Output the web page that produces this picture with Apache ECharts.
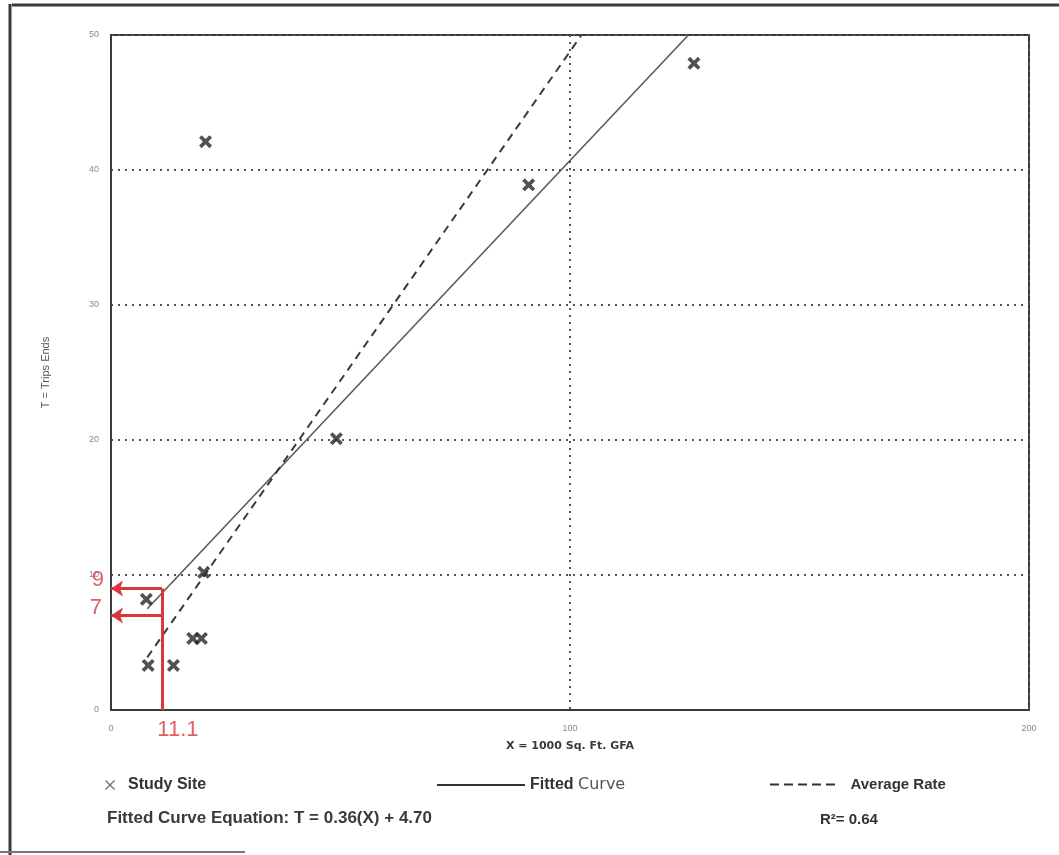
<!DOCTYPE html>
<html>
<head>
<meta charset="utf-8">
<title>Trip Ends vs GFA</title>
<script src="https://cdn.jsdelivr.net/npm/echarts@6/dist/echarts.min.js"></script>
<style>
  html, body { margin: 0; padding: 0; background: #fff; }
  #chart { width: 1059px; height: 855px; }
</style>
</head>
<body>
<div id="chart"></div>
<script>
// Study sites: X = 1000 Sq. Ft. GFA, T = trip ends
const siteX = [20.6, 127.0, 91.0, 49.1, 20.2, 7.7, 8.1, 13.6, 17.8, 19.7];
const siteT = [42.1, 47.9, 38.9, 20.1, 10.2, 8.2, 3.3, 3.3, 5.3, 5.3];

// Fitted curve (T = 0.36X + 4.70) and average rate, as drawn segment ends
const fittedX = [7.9, 125.8];
const fittedT = [7.5, 50];
const averageX = [7.9, 102.5];
const averageT = [3.9, 50];

// Read-off example: X = 11.1 gives T of about 9 and 7
const readX = 11.1;
const readT = [9, 7];

// Tick labels
const xTicks = [0, 100, 200];
const yTicks = [0, 10, 20, 30, 40, 50];

const FONT = '"Liberation Sans", Arial, sans-serif';
const RED = '#d9363e';
const crossPath = 'path://M0,2L2,0L5,3L8,0L10,2L7,5L10,8L8,10L5,7L2,10L0,8L3,5Z';
const thinCross = 'path://M0,1L1,0L5,4L9,0L10,1L6,5L10,9L9,10L5,6L1,10L0,9L4,5Z';
const dashIcon = 'path://M0,0H9V2H0Z M14,0H23V2H14Z M28,0H37V2H28Z M42,0H51V2H42Z M56,0H65V2H56Z';

const pair = (xs, ys) => xs.map((x, i) => [x, ys[i]]);

const chart = echarts.init(document.getElementById('chart'));

const legendText = { fontFamily: FONT, fontSize: 16, fontWeight: 'bold', color: '#333' };

chart.setOption({
  animation: false,
  backgroundColor: '#fff',
  grid: {
    left: 111, right: 30, top: 35, bottom: 145,
    show: true, borderColor: '#3a3a3a', borderWidth: 2
  },
  xAxis: {
    type: 'value', min: xTicks[0], max: xTicks[xTicks.length - 1], interval: 100,
    name: 'X = 1000 Sq. Ft. GFA', nameLocation: 'middle', nameGap: 31,
    nameTextStyle: { fontFamily: '"DejaVu Sans", sans-serif', fontSize: 11, fontWeight: 'bold', color: '#3a3a3a' },
    axisLine: { show: true, lineStyle: { color: '#3a3a3a', width: 2 } },
    axisTick: { show: false },
    axisLabel: { fontFamily: FONT, fontSize: 9, color: '#888', margin: 14 },
    splitLine: { show: true, lineStyle: { color: '#555', width: 2, type: [2, 5] } }
  },
  yAxis: {
    type: 'value', min: yTicks[0], max: yTicks[yTicks.length - 1], interval: 10,
    name: 'T = Trips Ends', nameLocation: 'middle', nameGap: 60,
    nameTextStyle: { fontFamily: FONT, fontSize: 11, color: '#555' },
    axisLine: { show: true, lineStyle: { color: '#3a3a3a', width: 2 } },
    axisTick: { show: false },
    axisLabel: { fontFamily: FONT, fontSize: 9, color: '#888', margin: 12 },
    splitLine: { show: true, lineStyle: { color: '#555', width: 2, type: [2, 5] } }
  },
  legend: [
    {
      data: [{ name: 'Study Site', icon: thinCross }], left: 100, top: 772,
      itemWidth: 10, itemHeight: 10,
      itemStyle: { color: '#555' },
      textStyle: Object.assign({}, legendText, { padding: [0, 0, 0, 8] }),
      selectedMode: false
    },
    {
      data: [{ name: 'Fitted Curve', icon: 'rect' }], left: 432, top: 772,
      itemWidth: 88, itemHeight: 2,
      itemStyle: { color: '#333' },
      formatter: () => '{b|Fitted} {r|Curve}',
      textStyle: {
        fontFamily: FONT, fontSize: 16, color: '#333',
        rich: {
          b: { fontFamily: FONT, fontSize: 16, fontWeight: 'bold', color: '#333' },
          r: { fontFamily: '"DejaVu Sans", sans-serif', fontSize: 16, color: '#555' }
        }
      },
      selectedMode: false
    },
    {
      data: [{ name: 'Average Rate', icon: dashIcon }], left: 765, top: 772,
      itemWidth: 66, itemHeight: 2,
      itemStyle: { color: '#333' },
      textStyle: Object.assign({}, legendText, { fontSize: 15, padding: [0, 0, 0, 10] }),
      selectedMode: false
    }
  ],
  series: [
    {
      name: 'Fitted Curve', type: 'line', data: pair(fittedX, fittedT),
      symbol: 'none', lineStyle: { color: '#5a5a5a', width: 1.6 }, itemStyle: { color: '#5a5a5a' },
      z: 3
    },
    {
      name: 'Average Rate', type: 'line', data: pair(averageX, averageT),
      symbol: 'none', lineStyle: { color: '#3a3a3a', width: 2, type: [8, 6] }, itemStyle: { color: '#3a3a3a' },
      z: 3
    },
    {
      name: 'Study Site', type: 'scatter', data: pair(siteX, siteT),
      symbol: crossPath, symbolSize: 13,
      itemStyle: { color: '#262626' }, z: 5
    },
    {
      // red read-off lines with arrows to the T axis
      name: 'readoff', type: 'line', data: [], silent: true,
      markLine: {
        silent: true, animation: false,
        lineStyle: { color: RED, width: 3, type: 'solid' },
        label: { show: false },
        symbolSize: [12, 12],
        data: [
          [{ coord: [readX, 0], symbol: 'none' }, { coord: [readX, readT[0]], symbol: 'none' }],
          [{ coord: [readX, readT[0]], symbol: 'none' }, { coord: [0, readT[0]], symbol: 'arrow' }],
          [{ coord: [readX, readT[1]], symbol: 'none' }, { coord: [0, readT[1]], symbol: 'arrow' }]
        ]
      },
      z: 6
    },
    {
      // red value labels for the read-off
      name: 'readoffLabels', type: 'scatter', silent: true, symbolSize: 0,
      data: [
        { value: [0, readT[0]], label: { formatter: String(readT[0]), position: 'left', offset: [-2, -9] } },
        { value: [0, readT[1]], label: { formatter: String(readT[1]), position: 'left', offset: [-4, -8] } },
        { value: [readX, 0], label: { formatter: String(readX), position: 'bottom', offset: [16, 4] } }
      ],
      label: { show: true, fontFamily: FONT, fontSize: 22, color: RED },
      z: 7
    }
  ],
  graphic: [
    // outer frame
    { type: 'line', shape: { x1: 12, y1: 5, x2: 1059, y2: 5 }, style: { stroke: '#3a3a3a', lineWidth: 3 } },
    { type: 'line', shape: { x1: 10, y1: 4, x2: 10, y2: 855 }, style: { stroke: '#3a3a3a', lineWidth: 3 } },
    { type: 'line', shape: { x1: 0, y1: 852, x2: 245, y2: 852 }, style: { stroke: '#777', lineWidth: 2 } },
    {
      type: 'text', left: 107, top: 810,
      style: { text: 'Fitted Curve Equation: T = 0.36(X) + 4.70', font: 'bold 17px ' + FONT, fill: '#3a3a3a' }
    },
    {
      type: 'text', left: 820, top: 812,
      style: { text: 'R²= 0.64', font: 'bold 15px ' + FONT, fill: '#333' }
    }
  ]
});
</script>
</body>
</html>
